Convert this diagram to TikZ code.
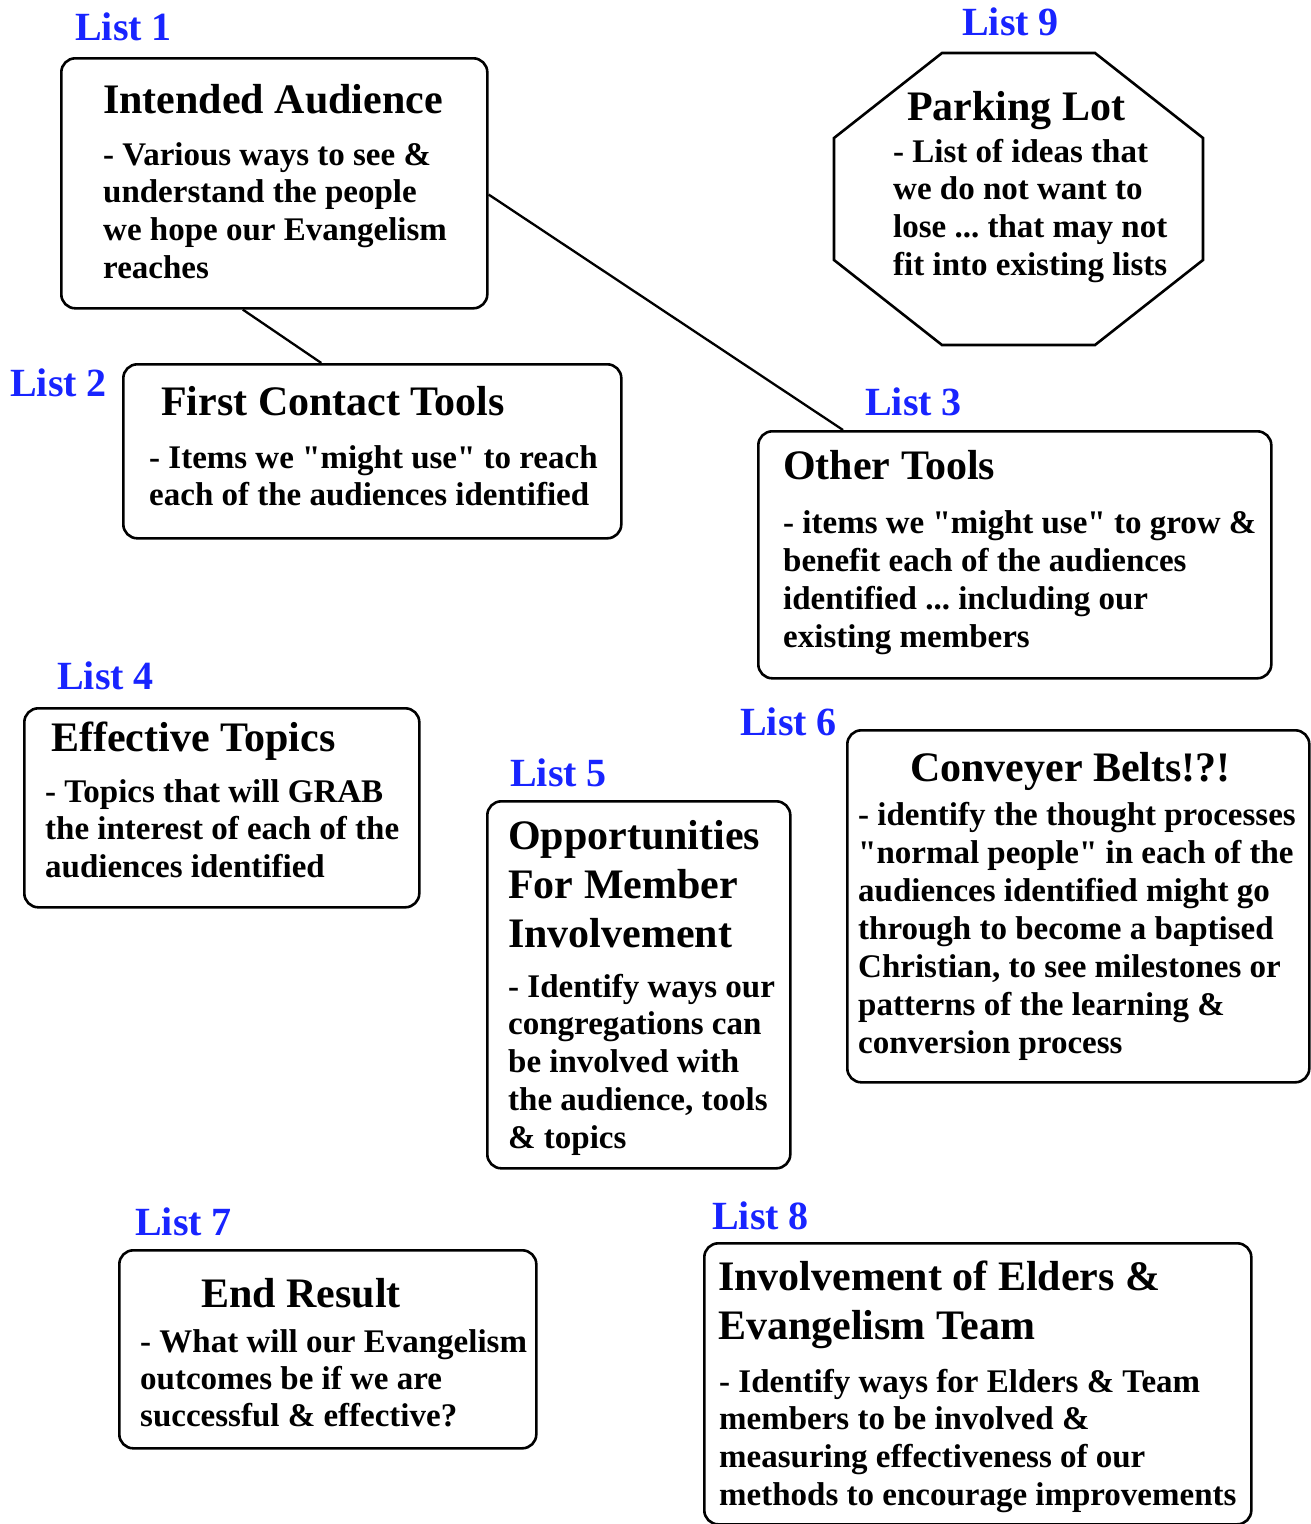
\documentclass[tikz,border=0pt]{standalone}
\usepackage{fontspec}
\setmainfont{Liberation Serif}
\usetikzlibrary{calc}

\definecolor{listblue}{RGB}{24,36,255}
\newcommand{\listdots}{...}

\tikzset{
	listbox/.style={draw, line width=2.6pt, rounded corners=14pt, anchor=north west, inner sep=0pt},
	listlabel/.style={anchor=base west, inner sep=0pt, text=listblue, font=\fontsize{40}{40}\selectfont\bfseries},
	boxtitle/.style={anchor=base west, inner sep=0pt, font=\fontsize{42}{49}\selectfont\bfseries},
	boxtext/.style={anchor=base west, inner sep=0pt, font=\fontsize{33}{38}\selectfont\bfseries},
	link/.style={line width=2.3pt}
}

\begin{document}
\begin{tikzpicture}[x=1pt,y=-1pt]

		\useasboundingbox (0,0) rectangle (1310,1524);

		% the lists
		\node[listbox, minimum width=426, minimum height=250] (audience) at (60,57) {};
		\node[listbox, minimum width=498, minimum height=174] (firstcontact) at (122,363) {};
		\node[listbox, minimum width=513, minimum height=247] (othertools) at (757,430) {};
		\node[listbox, minimum width=395, minimum height=199] (topics) at (23,707) {};
		\node[listbox, minimum width=303, minimum height=367] (members) at (486,800) {};
		\node[listbox, minimum width=462, minimum height=352] (belts) at (846,729) {};
		\node[listbox, minimum width=417, minimum height=198] (result) at (118,1249) {};
		\node[listbox, minimum width=547, minimum height=281] (elders) at (703,1242) {};

		% parking lot
		\coordinate (P1) at (942,53);
		\coordinate (P2) at (1095,53);
		\coordinate (P3) at (1203,138);
		\coordinate (P4) at (1203,260);
		\coordinate (P5) at (1095,345);
		\coordinate (P6) at (942,345);
		\coordinate (P7) at (834,260);
		\coordinate (P8) at (834,138);
		\draw[line width=2.6pt, line join=miter] (P1)--(P2)--(P3)--(P4)--(P5)--(P6)--(P7)--(P8)--cycle;

		\draw[link] (audience.256) -- (firstcontact.120);
		\draw[link] (audience.-3) -- (othertools.144);

		% labels
		\node[listlabel] (l1) at (75,40) {List 1};
		\node[listlabel] (l2) at (10,396) {List 2};
		\node[listlabel] (l3) at (865,415) {List 3};
		\node[listlabel] (l4) at (57,689) {List 4};
		\node[listlabel] (l5) at (510,786) {List 5};
		\node[listlabel] (l6) at (740,735) {List 6};
		\node[listlabel] (l7) at (135,1235) {List 7};
		\node[listlabel] (l8) at (712,1229) {List 8};
		\node[listlabel] (l9) at (962,35) {List 9};

		% texts
		\node[boxtitle] (t1) at (103,113) {Intended Audience};
		\foreach \txt [count=\i from 0] in {- Various ways to see \&, understand the people,
			we hope our Evangelism, reaches}
			\node[boxtext] (a\i) at (103,{165+37.7*\i}) {\txt};

		\node[boxtitle] (t2) at (161,415) {First Contact Tools};
		\foreach \txt [count=\i from 0] in {- Items we \textquotedbl might use\textquotedbl\ to reach,
			each of the audiences identified}
			\node[boxtext] (b\i) at (149,{468+37.5*\i}) {\txt};

		\node[boxtitle] (t3) at (783,479) {Other Tools};
		\foreach \txt [count=\i from 0] in {- items we \textquotedbl might use\textquotedbl\ to grow \&,
			benefit each of the audiences, identified \listdots\ including our, existing members}
			\node[boxtext] (c\i) at (783,{533+38*\i}) {\txt};

		\node[boxtitle] (t9) at (907,120) {Parking Lot};
		\foreach \txt [count=\i from 0] in {- List of ideas that, we do not want to,
			lose \listdots\ that may not, fit into existing lists}
			\node[boxtext] (p\i) at (893,{162+37.7*\i}) {\txt};

		\node[boxtitle] (t4) at (51,751) {Effective Topics};
		\foreach \txt [count=\i from 0] in {- Topics that will GRAB,
			the interest of each of the, audiences identified}
			\node[boxtext] (d\i) at (45,{802+37.5*\i}) {\txt};

		\foreach \txt [count=\i from 0] in {Opportunities, For Member, Involvement}
			\node[boxtitle] (t5\i) at (508,{849+49*\i}) {\txt};
		\foreach \txt [count=\i from 0] in {- Identify ways our, congregations can,
			be involved with, {the audience, tools}, \& topics}
			\node[boxtext] (e\i) at (508,{997+37.8*\i}) {\txt};

		\node[boxtitle] (t6) at (910,781) {Conveyer Belts!?!};
		\foreach \txt [count=\i from 0] in {- identify the thought processes,
			\textquotedbl normal people\textquotedbl\ in each of the, audiences identified might go,
			through to become a baptised, {Christian, to see milestones or},
			patterns of the learning \&, conversion process}
			\node[boxtext] (f\i) at (858,{825+38*\i}) {\txt};

		\node[boxtitle] (t7) at (201,1307) {End Result};
		\foreach \txt [count=\i from 0] in {- What will our Evangelism,
			outcomes be if we are, successful \& effective?}
			\node[boxtext] (g\i) at (140,{1352+37*\i}) {\txt};

		\foreach \txt [count=\i from 0] in {Involvement of Elders \&, Evangelism Team}
			\node[boxtitle] (t8\i) at (718,{1290+49*\i}) {\txt};
		\foreach \txt [count=\i from 0] in {- Identify ways for Elders \& Team,
			members to be involved \&, measuring effectiveness of our,
			methods to encourage improvements}
			\node[boxtext] (h\i) at (719,{1392+37.7*\i}) {\txt};

\end{tikzpicture}
\end{document}
